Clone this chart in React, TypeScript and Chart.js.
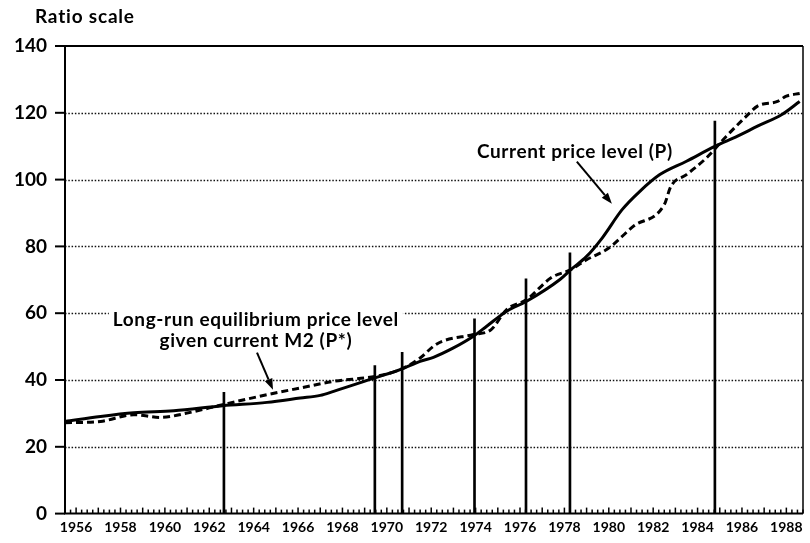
import React, { useEffect, useRef } from 'react';
import { Chart, registerables } from 'chart.js';

Chart.register(...registerables);

// ---------- data ----------
const TITLE = 'Ratio scale';
const X_TICK_LABELS = ['1956', '1958', '1960', '1962', '1964', '1966', '1968', '1970', '1972', '1974', '1976', '1978', '1980', '1982', '1984', '1986', '1988'];
const Y_TICKS = [0, 20, 40, 60, 80, 100, 120, 140];

const P_YEARS = [1955.5, 1957.1, 1958.6, 1960.4, 1962.6, 1964.6, 1966.1, 1967.0, 1967.6, 1969.5, 1970.6, 1971.5, 1972.1, 1973.0, 1973.9, 1974.5, 1975.4, 1976.3, 1977.8, 1978.3, 1979.0, 1979.7, 1980.6, 1981.4, 1982.3, 1983.5, 1984.8, 1985.8, 1986.7, 1987.8, 1988.6];
const P_VALUES = [27.6, 29.1, 30.2, 30.8, 32.3, 33.3, 34.6, 35.4, 36.6, 40.7, 43.1, 45.6, 46.8, 49.6, 53.1, 56.1, 60.6, 63.6, 70.1, 73.1, 77.0, 82.5, 91.0, 96.5, 101.5, 105.5, 110.0, 113.0, 116.0, 119.5, 123.4];

const PSTAR_YEARS = [1955.5, 1957.1, 1958.6, 1959.8, 1961.0, 1962.6, 1964.6, 1966.1, 1967.6, 1969.5, 1970.6, 1971.5, 1972.1, 1972.5, 1973.9, 1974.7, 1975.4, 1976.3, 1977.4, 1978.3, 1979.0, 1980.0, 1981.1, 1982.5, 1982.8, 1983.5, 1984.4, 1985.3, 1986.2, 1986.7, 1987.6, 1988.0, 1988.6];
const PSTAR_VALUES = [27.2, 27.6, 29.6, 28.8, 30.1, 32.6, 35.6, 37.6, 39.6, 41.1, 43.1, 46.6, 50.1, 51.6, 53.6, 55.1, 61.1, 64.1, 70.6, 73.1, 76.0, 79.5, 86.0, 92.5, 98.0, 101.5, 106.5, 113.0, 119.0, 122.0, 123.4, 125.0, 125.8];

const EVENT_YEARS = [1962.66, 1969.46, 1970.69, 1973.95, 1976.27, 1978.25, 1984.78];
const EVENT_HEIGHTS = [36.3, 44.3, 48.3, 58.3, 70.3, 78.1, 117.5];

const P_LABEL = 'Current price level (P)';
const PSTAR_LABEL = ['Long-run equilibrium price level', 'given current M2 (P*)'];

// ---------- layout / style ----------
const FONT = 'Lato, "DejaVu Sans", sans-serif';
const LAYOUT = {
  titleX: 35,
  titleY: 17,
  pLabel: { x: 1978.47, y: 108.4 },
  pArrow: { x0: 1978.56, y0: 105.4, x1: 1980.14, y1: 92.8 },
  pStarLabel: { x: 1964.1, y1: 58.1, y2: 51.8 },
  pStarArrow: { x0: 1964.15, y0: 48.2, x1: 1964.87, y1: 37.1 },
};

function drawArrow(ctx: CanvasRenderingContext2D, x0: number, y0: number, x1: number, y1: number) {
  const ang = Math.atan2(y1 - y0, x1 - x0);
  const head = 11;
  const half = 4;
  const bx = x1 - head * Math.cos(ang);
  const by = y1 - head * Math.sin(ang);
  ctx.beginPath();
  ctx.moveTo(x0, y0);
  ctx.lineTo(bx, by);
  ctx.lineWidth = 2;
  ctx.strokeStyle = '#000';
  ctx.stroke();
  ctx.beginPath();
  ctx.moveTo(x1, y1);
  ctx.lineTo(bx + half * Math.sin(ang), by - half * Math.cos(ang));
  ctx.lineTo(bx - half * Math.sin(ang), by + half * Math.cos(ang));
  ctx.closePath();
  ctx.fillStyle = '#000';
  ctx.fill();
}

const framePlugin = {
  id: 'frame',
  beforeDatasetsDraw(chart: any) {
    const { ctx, chartArea: a } = chart;
    const y = chart.scales.y;
    ctx.save();
    ctx.strokeStyle = '#111';
    ctx.lineWidth = 1.5;
    ctx.setLineDash([1.5, 1.8]);
    for (const v of Y_TICKS) {
      if (v === y.min || v === y.max) continue;
      const py = Math.round(y.getPixelForValue(v)) + 0.5;
      ctx.beginPath();
      ctx.moveTo(a.left, py);
      ctx.lineTo(a.right, py);
      ctx.stroke();
    }
    ctx.restore();
  },
  afterDatasetsDraw(chart: any) {
    const { ctx, chartArea: a } = chart;
    const x = chart.scales.x;
    const y = chart.scales.y;
    ctx.save();
    ctx.setLineDash([]);
    ctx.strokeStyle = '#000';

    // frame
    ctx.lineWidth = 2;
    ctx.beginPath();
    ctx.moveTo(a.left, a.top);
    ctx.lineTo(a.left, a.bottom);
    ctx.lineTo(a.right, a.bottom);
    ctx.moveTo(a.left, a.top);
    ctx.lineTo(a.right, a.top);
    ctx.stroke();
    ctx.lineWidth = 1.5;
    ctx.beginPath();
    ctx.moveTo(a.right, a.top);
    ctx.lineTo(a.right, a.bottom);
    ctx.stroke();

    // y tick marks
    ctx.lineWidth = 2;
    for (const v of Y_TICKS) {
      const py = y.getPixelForValue(v);
      ctx.beginPath();
      ctx.moveTo(a.left - 10, py);
      ctx.lineTo(a.left, py);
      ctx.stroke();
    }

    // x quarter ticks (inside, upward)
    ctx.lineWidth = 1.5;
    const start = Math.ceil(x.min * 4) / 4;
    for (let q = start; q <= x.max + 1e-6; q += 0.25) {
      const px = x.getPixelForValue(q);
      const isYear = Math.abs(q - Math.round(q)) < 1e-6;
      ctx.beginPath();
      ctx.moveTo(px, a.bottom);
      ctx.lineTo(px, a.bottom - (isYear ? 6 : 4));
      ctx.stroke();
    }

    // annotations
    ctx.fillStyle = '#000';
    ctx.font = `bold 19px ${FONT}`;
    (ctx as any).letterSpacing = '0.6px';
    ctx.textAlign = 'center';
    ctx.textBaseline = 'middle';

    // P label
    const pl = LAYOUT.pLabel;
    ctx.fillText(P_LABEL, x.getPixelForValue(pl.x), y.getPixelForValue(pl.y));
    const pa = LAYOUT.pArrow;
    drawArrow(ctx, x.getPixelForValue(pa.x0), y.getPixelForValue(pa.y0), x.getPixelForValue(pa.x1), y.getPixelForValue(pa.y1));

    // P* label with white boxes
    const sl = LAYOUT.pStarLabel;
    const cx = x.getPixelForValue(sl.x);
    const ys = [y.getPixelForValue(sl.y1), y.getPixelForValue(sl.y2)];
    PSTAR_LABEL.forEach((t, i) => {
      const w = ctx.measureText(t).width;
      ctx.fillStyle = '#fff';
      ctx.fillRect(cx - w / 2 - 4, ys[i] - 10, w + 8, 20);
    });
    ctx.fillStyle = '#000';
    PSTAR_LABEL.forEach((t, i) => ctx.fillText(t, cx, ys[i]));
    const sa = LAYOUT.pStarArrow;
    drawArrow(ctx, x.getPixelForValue(sa.x0), y.getPixelForValue(sa.y0), x.getPixelForValue(sa.x1), y.getPixelForValue(sa.y1));

    // title
    ctx.textAlign = 'left';
    ctx.font = `bold 19px ${FONT}`;
    (ctx as any).letterSpacing = '0.8px';
    ctx.fillText(TITLE, LAYOUT.titleX, LAYOUT.titleY);
    ctx.restore();
  },
};

export default function App() {
  const canvasRef = useRef<HTMLCanvasElement | null>(null);

  useEffect(() => {
    if (!canvasRef.current) return;
    const chart = new Chart(canvasRef.current, {
      type: 'line',
      data: {
        datasets: [
          {
            type: 'line',
            label: 'P',
            data: P_YEARS.map((yr, i) => ({ x: yr, y: P_VALUES[i] })),
            borderColor: '#000',
            borderWidth: 3,
            pointRadius: 0,
            cubicInterpolationMode: 'monotone',
            fill: false,
          },
          {
            type: 'line',
            label: 'P*',
            data: PSTAR_YEARS.map((yr, i) => ({ x: yr, y: PSTAR_VALUES[i] })),
            borderColor: '#000',
            borderWidth: 3,
            borderDash: [7, 4],
            pointRadius: 0,
            cubicInterpolationMode: 'monotone',
            fill: false,
          },
          {
            type: 'bar',
            label: 'events',
            data: EVENT_YEARS.map((yr, i) => ({ x: yr, y: EVENT_HEIGHTS[i] })),
            backgroundColor: '#000',
            barThickness: 2,
            borderWidth: 0,
          } as any,
        ],
      },
      options: {
        animation: false,
        responsive: false,
        devicePixelRatio: 1,
        layout: { padding: { top: 46, right: 7, left: 0, bottom: 0 } },
        plugins: { legend: { display: false }, tooltip: { enabled: false }, title: { display: false } },
        scales: {
          x: {
            type: 'linear',
            min: 1955.5,
            max: 1988.75,
            offset: false,
            grid: { display: false, drawTicks: false },
            border: { display: false },
            afterBuildTicks: (s: any) => {
              s.ticks = X_TICK_LABELS.map((l) => ({ value: Number(l) }));
            },
            ticks: {
              autoSkip: false,
              maxRotation: 0,
              padding: 5,
              color: '#000',
              font: { family: FONT, weight: 'bold', size: 14 },
              callback: (v: any) => String(v),
            },
            afterFit: (s: any) => {
              s.height = 29;
            },
          },
          y: {
            type: 'linear',
            min: 0,
            max: 140,
            grid: { display: false, drawTicks: false },
            border: { display: false },
            afterBuildTicks: (s: any) => {
              s.ticks = Y_TICKS.map((v) => ({ value: v }));
            },
            ticks: {
              padding: 18,
              color: '#000',
              font: { family: FONT, weight: 'bold', size: 19 },
            },
            afterFit: (s: any) => {
              s.width = 65;
            },
          },
        },
      } as any,
      plugins: [framePlugin],
    });
    return () => chart.destroy();
  }, []);

  return (
    <div style={{ position: 'absolute', left: 0, top: 0, width: 810, height: 543, background: '#fff' }}>
      <canvas ref={canvasRef} width={810} height={543} />
    </div>
  );
}
